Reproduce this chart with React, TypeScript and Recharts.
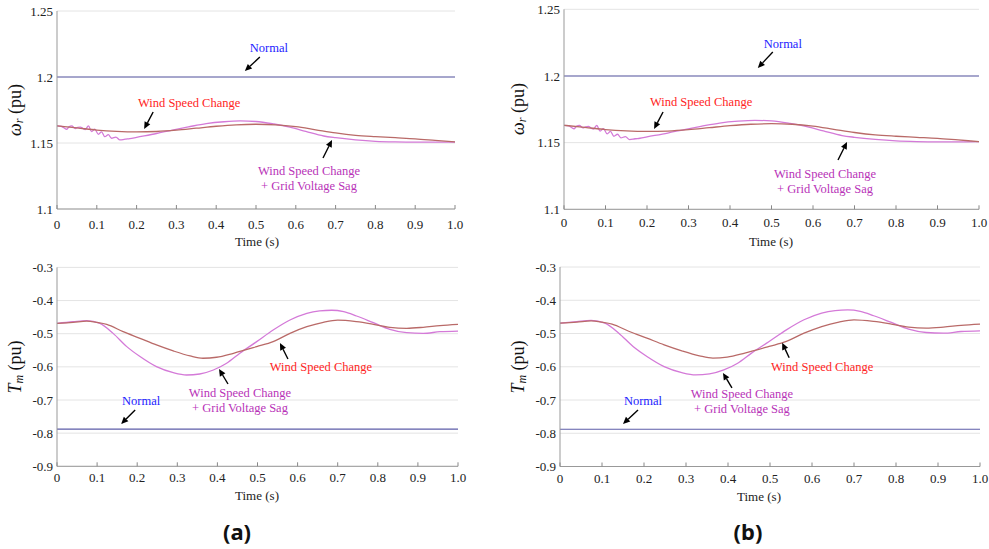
import { LineChart, Line, XAxis, YAxis, CartesianGrid, ReferenceDot } from 'recharts'

// rotor speed (pu)
const normalTime = [0, 0.5, 1.0]
const omegaNormal = [1.2, 1.2, 1.2]
const torqueNormal = [-0.788, -0.788, -0.788]

const windTime = [0, 0.05, 0.1, 0.15, 0.2, 0.25, 0.3, 0.35, 0.4, 0.45, 0.5, 0.55, 0.6, 0.65, 0.7, 0.75, 0.8, 0.85, 0.9, 0.95, 1.0]
const omegaWind = [1.163, 1.1615, 1.1598, 1.1588, 1.1584, 1.1587, 1.1597, 1.1612, 1.1627, 1.1638, 1.1642, 1.1638, 1.1624, 1.16, 1.1576, 1.1558, 1.1548, 1.154, 1.1532, 1.152, 1.1508]

const sagOmegaTime = [0, 0.012, 0.024, 0.03, 0.037, 0.046, 0.052, 0.059, 0.065, 0.071, 0.079, 0.087, 0.095, 0.104, 0.112, 0.12, 0.129, 0.137, 0.148, 0.158, 0.171, 0.183, 0.2, 0.25, 0.29, 0.33, 0.375, 0.42, 0.46, 0.5, 0.545, 0.585, 0.625, 0.67, 0.7, 0.75, 0.8, 0.85, 0.9, 0.95, 1.0]
const omegaSag = [1.163, 1.1625, 1.1604, 1.1622, 1.1629, 1.161, 1.1618, 1.1621, 1.161, 1.1602, 1.163, 1.1586, 1.1605, 1.1566, 1.1585, 1.1548, 1.1563, 1.1536, 1.1545, 1.1523, 1.1529, 1.1533, 1.1543, 1.1572, 1.1598, 1.1622, 1.1647, 1.1661, 1.1667, 1.1663, 1.1644, 1.162, 1.1588, 1.1553, 1.154, 1.1524, 1.1513, 1.1508, 1.1506, 1.1506, 1.1507]

// mechanical torque (pu)
const windTorqueTime = [0, 0.04, 0.074, 0.1, 0.124, 0.165, 0.207, 0.248, 0.29, 0.332, 0.364, 0.398, 0.44, 0.498, 0.539, 0.581, 0.623, 0.664, 0.7, 0.747, 0.789, 0.83, 0.872, 0.913, 0.955, 1.0]
const torqueWind = [-0.469, -0.466, -0.4622, -0.466, -0.4717, -0.494, -0.514, -0.534, -0.552, -0.567, -0.574, -0.571, -0.559, -0.539, -0.524, -0.499, -0.479, -0.4657, -0.4592, -0.4638, -0.4717, -0.4807, -0.4837, -0.4807, -0.4755, -0.4717]

const sagTorqueTime = [0, 0.04, 0.074, 0.107, 0.14, 0.174, 0.207, 0.248, 0.29, 0.323, 0.356, 0.39, 0.423, 0.456, 0.498, 0.539, 0.581, 0.623, 0.655, 0.685, 0.715, 0.747, 0.789, 0.83, 0.872, 0.913, 0.955, 1.0]
const torqueSag = [-0.469, -0.464, -0.4605, -0.4687, -0.499, -0.539, -0.569, -0.5995, -0.6176, -0.6246, -0.6216, -0.6095, -0.5893, -0.559, -0.524, -0.489, -0.4587, -0.4385, -0.4312, -0.4292, -0.4335, -0.4466, -0.4668, -0.4867, -0.497, -0.499, -0.494, -0.492]

const timeTicks = [0, 0.1, 0.2, 0.3, 0.4, 0.5, 0.6, 0.7, 0.8, 0.9, 1.0]
const omegaTicks = [1.1, 1.15, 1.2, 1.25]
const torqueTicks = [-0.9, -0.8, -0.7, -0.6, -0.5, -0.4, -0.3]

const LBL_NORMAL = 'Normal'
const LBL_WIND = 'Wind Speed Change'
const LBL_SAG = ['Wind Speed Change', '+ Grid Voltage Sag']

const C_NORMAL = '#5c5ca8'
const C_WIND = '#b96a68'
const C_SAG = '#d47ad8'
const T_NORMAL = '#2222ff'
const T_WIND = '#ff2424'
const T_SAG = '#b833b8'

const SERIF = 'Liberation Serif, serif'

const zip = (t: number[], v: number[]) => t.map((x, i) => ({ t: x, v: v[i] }))

const omegaSeries = [
  { key: 'normal', data: zip(normalTime, omegaNormal), color: C_NORMAL, w: 1.1 },
  { key: 'sag', data: zip(sagOmegaTime, omegaSag), color: C_SAG, w: 1.3 },
  { key: 'wind', data: zip(windTime, omegaWind), color: C_WIND, w: 1.3 },
]
const torqueSeries = [
  { key: 'normal', data: zip(normalTime, torqueNormal), color: C_NORMAL, w: 1.1 },
  { key: 'sag', data: zip(sagTorqueTime, torqueSag), color: C_SAG, w: 1.3 },
  { key: 'wind', data: zip(windTorqueTime, torqueWind), color: C_WIND, w: 1.3 },
]

type Note = { x: number; y: number; tail: [number, number]; text: [number, number]; lines: string[]; color: string }

const notesTopA: Note[] = [
  { x: 0.472, y: 1.2045, tail: [15, -14], text: [24, -23], lines: [LBL_NORMAL], color: T_NORMAL },
  { x: 0.219, y: 1.1606, tail: [9, -17], text: [45, -26], lines: [LBL_WIND], color: T_WIND },
  { x: 0.691, y: 1.1523, tail: [-9, 18], text: [-23, 31], lines: LBL_SAG, color: T_SAG },
]
const notesBotA: Note[] = [
  { x: 0.556, y: -0.528, tail: [8, 16], text: [41, 24], lines: [LBL_WIND], color: T_WIND },
  { x: 0.404, y: -0.6065, tail: [9, 15], text: [21, 24], lines: LBL_SAG, color: T_SAG },
  { x: 0.16, y: -0.7724, tail: [14, -14], text: [20, -23], lines: [LBL_NORMAL], color: T_NORMAL },
]
const notesTopB: Note[] = [
  { x: 0.467, y: 1.206, tail: [15, -16], text: [25, -24], lines: [LBL_NORMAL], color: T_NORMAL },
  { x: 0.217, y: 1.1602, tail: [9, -17], text: [47, -27], lines: [LBL_WIND], color: T_WIND },
  { x: 0.682, y: 1.1505, tail: [-9, 18], text: [-22, 32], lines: LBL_SAG, color: T_SAG },
]
const notesBotB: Note[] = [
  { x: 0.529, y: -0.528, tail: [7, 15], text: [40, 24], lines: [LBL_WIND], color: T_WIND },
  { x: 0.388, y: -0.6187, tail: [9, 15], text: [19, 21], lines: LBL_SAG, color: T_SAG },
  { x: 0.15, y: -0.772, tail: [15, -14], text: [20, -23], lines: [LBL_NORMAL], color: T_NORMAL },
]

function Annotation({ cx, cy, note }: any) {
  const tx = cx + note.tail[0]
  const ty = cy + note.tail[1]
  const ang = Math.atan2(cy - ty, cx - tx)
  const len = 7
  const w = 3.2
  const bx = cx - len * Math.cos(ang)
  const by = cy - len * Math.sin(ang)
  const s = Math.sin(ang)
  const c = Math.cos(ang)
  return (
    <g>
      <line x1={tx} y1={ty} x2={bx} y2={by} stroke="#000" strokeWidth={1.4} />
      <polygon points={`${cx},${cy} ${bx + w * s},${by - w * c} ${bx - w * s},${by + w * c}`} fill="#000" />
      {note.lines.map((l: string, i: number) => (
        <text
          key={i}
          x={cx + note.text[0]}
          y={cy + note.text[1] + i * 15}
          textAnchor="middle"
          dominantBaseline="central"
          fill={note.color}
          fontSize={12.5}
          fontFamily={SERIF}
        >
          {l}
        </text>
      ))}
    </g>
  )
}

const fmtTime = (v: number) => (v === 0 ? '0' : v.toFixed(1))

function XTick({ x, y, payload, off }: any) {
  return (
    <g>
      <line x1={x} x2={x} y1={y} y2={y - 4} stroke="#888" />
      <text x={x} y={y + off} textAnchor="middle" dominantBaseline="central" fontSize={13} fontFamily={SERIF} fill="#222">
        {fmtTime(payload.value)}
      </text>
    </g>
  )
}

function Panel({ left, top, width, height, margin, yw, xh, domain, ticks, series, notes, tickOff }: any) {
  return (
    <div style={{ position: 'absolute', left, top }}>
      <LineChart width={width} height={height} margin={margin}>
        <CartesianGrid vertical={false} stroke="#e4e4e4" />
        <XAxis
          dataKey="t"
          type="number"
          domain={[0, 1]}
          ticks={timeTicks}
          height={xh}
          tickSize={0}
          tickMargin={0}
          stroke="#999"
          tick={(p: any) => <XTick {...p} off={tickOff} />}
          interval={0}
          allowDataOverflow
        />
        <YAxis
          type="number"
          domain={domain}
          ticks={ticks}
          width={yw}
          tickSize={0}
          tickMargin={4}
          stroke="#999"
          interval={0}
          tick={{ fontSize: 13, fontFamily: SERIF, fill: '#222' }}
          allowDataOverflow
        />
        {series.map((s: any) => (
          <Line
            key={s.key}
            data={s.data}
            dataKey="v"
            type="monotone"
            stroke={s.color}
            strokeWidth={s.w}
            dot={false}
            isAnimationActive={false}
          />
        ))}
        {notes.map((n: Note, i: number) => (
          <ReferenceDot
            key={i}
            x={n.x}
            y={n.y}
            r={2}
            ifOverflow="visible"
            shape={(p: any) => <Annotation cx={p.cx} cy={p.cy} note={n} />}
          />
        ))}
      </LineChart>
    </div>
  )
}

function AxisTitle({ x, y, sym, sub }: { x: number; y: number; sym: string; sub: string }) {
  return (
    <text
      x={x}
      y={y}
      transform={`rotate(-90, ${x}, ${y})`}
      textAnchor="middle"
      dominantBaseline="central"
      fontSize={18}
      fontFamily={SERIF}
      fill="#111"
    >
      <tspan fontStyle="italic">{sym}</tspan>
      <tspan fontStyle="italic" fontSize={12} dy={4}>{sub}</tspan>
      <tspan dy={-4}> (pu)</tspan>
    </text>
  )
}

export default function App() {
  return (
    <div style={{ position: 'absolute', left: 0, top: 0, width: 989, height: 549, background: '#fff', overflow: 'hidden' }}>
      <Panel left={0} top={0} width={470} height={250} margin={{ top: 11, right: 15, bottom: 0, left: 0 }} yw={57} xh={41}
        domain={[1.1, 1.25]} ticks={omegaTicks} series={omegaSeries} notes={notesTopA} tickOff={15} />
      <Panel left={0} top={250} width={470} height={250} margin={{ top: 17.4, right: 12, bottom: 0, left: 0 }} yw={57} xh={33.7}
        domain={[-0.9, -0.3]} ticks={torqueTicks} series={torqueSeries} notes={notesBotA} tickOff={11} />
      <Panel left={500} top={0} width={489} height={250} margin={{ top: 9.3, right: 10, bottom: 0, left: 0 }} yw={64} xh={40.7}
        domain={[1.1, 1.25]} ticks={omegaTicks} series={omegaSeries} notes={notesTopB} tickOff={13.5} />
      <Panel left={500} top={250} width={489} height={250} margin={{ top: 17, right: 9, bottom: 0, left: 0 }} yw={60} xh={33.5}
        domain={[-0.9, -0.3]} ticks={torqueTicks} series={torqueSeries} notes={notesBotB} tickOff={12} />
      <svg width={989} height={549} style={{ position: 'absolute', left: 0, top: 0, pointerEvents: 'none' }}>
        <AxisTitle x={15} y={110} sym="ω" sub="r" />
        <AxisTitle x={15} y={367} sym="T" sub="m" />
        <AxisTitle x={518} y={109} sym="ω" sub="r" />
        <AxisTitle x={518} y={367} sym="T" sub="m" />
        <g fontFamily={SERIF} fontSize={13} fill="#222" textAnchor="middle" dominantBaseline="central">
          <text x={257} y={241}>Time (s)</text>
          <text x={257} y={495}>Time (s)</text>
          <text x={771} y={241}>Time (s)</text>
          <text x={759} y={496}>Time (s)</text>
        </g>
        <g fontFamily="Noto Sans, sans-serif" fontWeight="bold" fontSize={22} fill="#111" textAnchor="middle" dominantBaseline="central">
          <text x={237} y={531}>(a)</text>
          <text x={748} y={531}>(b)</text>
        </g>
      </svg>
    </div>
  )
}
